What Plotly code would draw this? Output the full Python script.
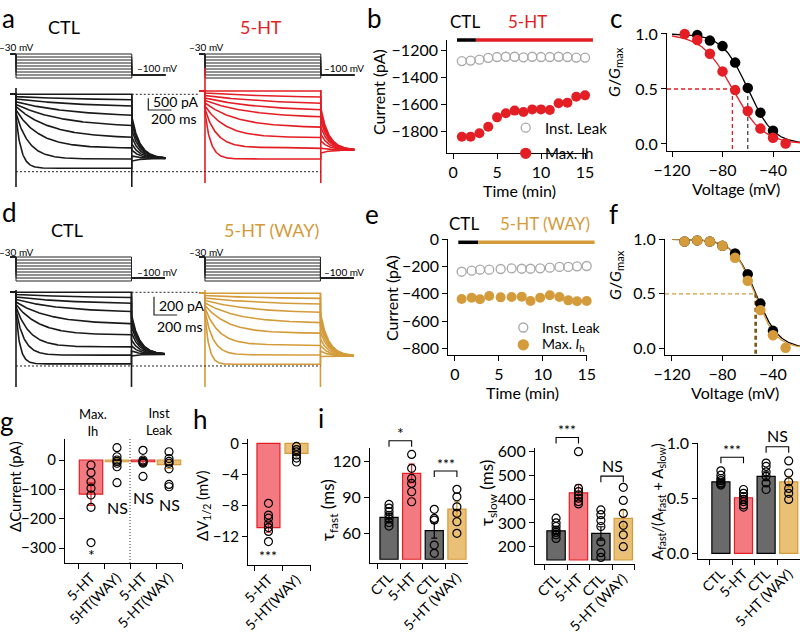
import numpy as np
import plotly.graph_objects as go

W, H = 800, 633
FONT = "Lato"
RED = "#E31E24"; RED_FILL = "#F27A80"
GOLD = "#D49B3B"; GOLD_FILL = "#EABF76"
GRAY_FILL = "#6A6A6A"; LEAK = "#A8A8A8"

# ======================= DATA =======================
# --- a / d : voltage protocol (mV) and sweep parameters (pA, ms)
V_STEPS = [-30, -40, -50, -60, -70, -80, -90, -100, -110]
V_HOLD, V_TAIL = -30, -100
PRE_MS, STEP_MS, TAIL_MS, TAIL_TAU = 50, 1000, 290, 70

A_CTL_INST = [-200, -300, -400, -520, -630, -730, -870, -1010, -1160]
A_CTL_SS = [-200, -470, -770, -1180, -1610, -2080, -2500, -2960, -3360]
A_CTL_TAU = [1, 700, 600, 500, 400, 300, 200, 110, 45]
A_CTL_TAIL0 = [-1160, -1300, -1470, -1720, -2020, -2320, -2580, -2830, -3050]
A_CTL_TAILSS = -2940
A_CTL_TRANS = [70, -4160, -200, -4160]          # on-top, on-bottom, off-top, off-bottom

A_HT_INST = [-60, -145, -250, -360, -465, -570, -700, -830, -1000]
A_HT_SS = [-60, -370, -660, -940, -1220, -1630, -2050, -2480, -2960]
A_HT_TAU = [1, 700, 600, 500, 400, 280, 180, 100, 50]
A_HT_TAIL0 = [-790, -960, -1130, -1340, -1600, -1900, -2190, -2490, -2710]
A_HT_TAILSS = -2580
A_HT_TRANS = [920, -3990, -20, -3990]
A_REF_TOP, A_REF_BOT = -200, -3505
A_SCALE = (200, 500)   # ms, pA

D_CTL_INST = [-100, -124, -151, -178, -206, -233, -260, -293, -329]
D_CTL_SS = [-100, -165, -230, -320, -450, -565, -695, -785, -880]
D_CTL_TAU = [1, 600, 500, 400, 300, 200, 120, 70, 35]
D_CTL_TAIL0 = [-347, -380, -424, -478, -543, -620, -685, -740, -794]
D_CTL_TAILSS = -776
D_CTL_TRANS = [-75, -1132, -97, -1132]

D_WAY_INST = [-111, -135, -162, -189, -217, -244, -271, -304, -342]
D_WAY_SS = [-111, -173, -238, -329, -438, -547, -674, -783, -885]
D_WAY_TAU = [1, 600, 500, 400, 300, 200, 120, 70, 35]
D_WAY_TAIL0 = [-330, -370, -415, -470, -535, -610, -680, -740, -800]
D_WAY_TAILSS = -795
D_WAY_TRANS = [-75, -1132, -110, -1132]
D_REF_TOP, D_REF_BOT = -100, -903
D_SCALE = (200, 200)

# --- b
B_T = [1, 2, 3, 4, 5, 6, 7, 8, 9, 10, 11, 12, 13, 14, 15]
B_LEAK = [-1282, -1278, -1272, -1258, -1252, -1250, -1250, -1254, -1250, -1252, -1252, -1250, -1252, -1256, -1256]
B_IH = [-1842, -1842, -1817, -1768, -1699, -1669, -1649, -1659, -1640, -1640, -1644, -1595, -1590, -1546, -1536]
B_CTL_PERIOD = (0.45, 2.6)
B_DRUG_PERIOD = (2.6, 15.9)

# --- e
E_T = [0.76, 1.9, 2.85, 3.9, 5.2, 6.45, 7.6, 8.6, 9.7, 10.8, 11.9, 12.9, 13.9, 15.0]
E_LEAK = [-238, -230, -223, -223, -218, -213, -216, -216, -213, -208, -203, -203, -198, -196]
E_IH = [-438, -429, -440, -416, -426, -423, -421, -453, -429, -411, -423, -448, -455, -453]
E_CTL_PERIOD = (0.38, 2.65)
E_DRUG_PERIOD = (2.65, 15.9)

# --- c / f  (G/Gmax)
C_V_CTL = [-100, -90, -80, -70, -60, -50, -40]
C_G_CTL = [0.99, 0.94, 0.89, 0.74, 0.51, 0.285, 0.12]
C_V_HT = [-110, -100, -90, -80, -70, -60, -50, -40, -30]
C_G_HT = [1.0, 0.945, 0.82, 0.66, 0.49, 0.30, 0.14, 0.057, 0.005]
C_FIT_CTL = (-60.0, 10.0)    # V1/2, slope k
C_FIT_HT = (-72.2, 12.0)

F_V_CTL = [-110, -100, -90, -80, -70, -60, -50, -40]
F_G_CTL = [0.98, 0.99, 0.98, 0.94, 0.87, 0.68, 0.41, 0.16]
F_V_WAY = [-110, -100, -90, -80, -70, -60, -50, -40, -30]
F_G_WAY = [0.98, 0.99, 0.98, 0.94, 0.83, 0.62, 0.35, 0.12, 0.005]
F_FIT_CTL = (-53.5, 9.0)
F_FIT_WAY = (-54.5, 8.5)

# --- g
G_CATS = ["5-HT", "5HT(WAY)", "5-HT", "5-HT(WAY)"]
G_MEAN = [-116, -6, -6, -16]
G_SEM = [38, 12, 10, 13]
G_PTS = [[-17, -43, -74, -96, -119, -161, -281],
         [42, 11, 0, -5, -11, -23, -77],
         [33, 0, -5, -8, -11, -56],
         [28, 5, -5, -11, -30, -83, -91]]

# --- h
H_CATS = ["5-HT", "5-HT(WAY)"]
H_MEAN = [-10.8, -1.3]
H_SEM = [0.6, 0.3]
H_PTS = [[-7.7, -9.2, -9.6, -10.3, -10.8, -11.3, -12.6],
         [-0.4, -0.8, -1.1, -1.5, -1.9, -2.4]]

# --- i
I_CATS = ["CTL", "5-HT", "CTL", "5-HT (WAY)"]
TF_MEAN = [73.3, 109.7, 62.2, 80.1]
TF_SEM = [3.3, 7.8, 6.1, 6.1]
TF_PTS = [[84, 81, 78, 75, 72, 69, 66],
          [125.5, 113.9, 105.6, 101.4, 94.5, 86.2],
          [79.9, 72.4, 71, 50.3, 43.4],
          [96.5, 90.3, 82, 76.6, 69.6, 60]]
TS_MEAN = [267, 427, 256, 319]
TS_SEM = [12, 35, 28, 35]
TS_PTS = [[320, 300, 285, 270, 260, 250, 235],
          [600, 446, 432, 418, 404, 390, 380],
          [355, 335, 310, 285, 220, 175, 155],
          [450, 395, 340, 290, 250, 200]]
AF_MEAN = [0.65, 0.505, 0.70, 0.65]
AF_SEM = [0.02, 0.02, 0.04, 0.05]
AF_PTS = [[0.75, 0.71, 0.68, 0.66, 0.64, 0.63, 0.62],
          [0.58, 0.545, 0.515, 0.49, 0.47, 0.44, 0.42],
          [0.82, 0.79, 0.74, 0.70, 0.64, 0.58],
          [0.84, 0.73, 0.65, 0.59, 0.545, 0.49]]
# significance: (panel, cat0, cat1, bracket height in data units, label)
SIG = [("i1", 0, 1, 136.8, "*"), ("i1", 2, 3, 111.7, "***"),
       ("i2", 0, 1, 660.0, "***"), ("i2", 2, 3, 497.0, "NS"),
       ("i3", 0, 1, 0.873, "***"), ("i3", 2, 3, 0.969, "NS")]

# ======================= LAYOUT HELPERS =======================
def fx(px): return px / W
def fy(py): return 1 - py / H

AX = {}
def reg(name, xdom, xr, ydom, yr):
    AX[name] = (xdom, xr, ydom, yr)

def X(name, v):
    (a, b), (r0, r1) = AX[name][0], AX[name][1]
    return fx(a + (v - r0) / (r1 - r0) * (b - a))
def Y(name, v):
    (t, bt), (r0, r1) = AX[name][2], AX[name][3]
    return fy(bt - (v - r0) / (r1 - r0) * (bt - t))
def Ypx(name, v):
    (t, bt), (r0, r1) = AX[name][2], AX[name][3]
    return bt - (v - r0) / (r1 - r0) * (bt - t)

A_PX0, A_PXMS, A_OFF = 16, 0.1158, 1632
D_PX0, D_PXMS, D_OFF = 16, 0.1155, 1636
a_xr = [(0 - A_PX0) / A_PXMS, (360 - A_PX0) / A_PXMS]
d_xr = [(0 - D_PX0) / D_PXMS, (360 - D_PX0) / D_PXMS]

reg("b", (447.3, 586), [-0.65, 15.11], (40, 152.7), [-1960.7, -1125.9])
reg("e", (448.3, 586.7), [-0.76, 15.0], (239.3, 355), [-849.2, 0])
reg("c", (667, 800), [-124.0, -18.6], (33, 150.7), [-0.061, 1.009])
reg("f", (665, 800), [-125.5, -18.6], (239.3, 355), [-0.0615, 1.0])
reg("g", (65, 182), [-1.0, 3.5], (439, 563), [-350.3, 71.4])
reg("h", (248, 310.5), [-0.73, 1.5], (439, 565), [-15.6, 0.55])
reg("i1", (370, 468), [-0.84, 3.49], (448, 563), [35.4, 130.8])
reg("i2", (535, 634.5), [-0.94, 3.5], (448, 564), [127.2, 615.6])
reg("i3", (698.3, 800), [-1.0, 3.5], (443.3, 559.3), [-0.0545, 1.0])

BASES = {"g": 0, "h": 0, "i1": 38.5, "i2": 144, "i3": 0}

fig = go.Figure()
layout = dict(width=W, height=H, autosize=False,
              margin=dict(l=0, r=0, t=0, b=0, pad=0, autoexpand=False),
              paper_bgcolor="white", plot_bgcolor="rgba(0,0,0,0)",
              showlegend=False, font=dict(family=FONT, color="black", size=15))
shapes, annos = [], []

AXSTYLE = dict(showline=True, linecolor="black", linewidth=1.2, ticks="outside",
               ticklen=5, tickwidth=1.2, tickcolor="black", showgrid=False, automargin=False,
               zeroline=False, fixedrange=True, tickfont=dict(size=16, color="black"))

def xdomain(a, b): return [fx(a), fx(b)]
def ydomain(top, bot): return [fy(bot), fy(top)]

hid = dict(visible=False, showgrid=False, zeroline=False, fixedrange=True, automargin=False)
layout["xaxis"] = dict(hid, domain=xdomain(0, 360), range=a_xr, anchor="y2")
layout["yaxis"] = dict(hid, domain=ydomain(45, 82), range=[-123.3, 0], anchor="x")
a_iy = lambda py: -200 - (py - 94.3) * 42.7
layout["yaxis2"] = dict(hid, domain=ydomain(60, 192), range=[a_iy(192), a_iy(60)], anchor="x")
layout["xaxis2"] = dict(hid, domain=xdomain(0, 360), range=d_xr, anchor="y4")
layout["yaxis3"] = dict(hid, domain=ydomain(248, 285), range=[-123.3, 0], anchor="x2")
d_iy = lambda py: -100 - (py - 292.3) * 10.9
layout["yaxis4"] = dict(hid, domain=ydomain(284, 392), range=[d_iy(392), d_iy(284)], anchor="x2")

def sweeps(inst, ss, tau, tail0, tail_ss, t_off):
    xs, ys = [], []
    hold = ss[0]
    for i0, iss, tu, tl0 in zip(inst, ss, tau, tail0):
        t1 = np.linspace(0, STEP_MS, 240)
        c1 = iss + (i0 - iss) * np.exp(-t1 / tu)
        t2 = np.linspace(STEP_MS, STEP_MS + TAIL_MS, 80)
        c2 = tail_ss + (tl0 - tail_ss) * np.exp(-(t2 - STEP_MS) / TAIL_TAU)
        xs += [t_off - PRE_MS, t_off] + list(t1 + t_off) + list(t2 + t_off) + [None]
        ys += [hold, hold] + list(c1) + list(c2) + [None]
    return xs, ys

def protocol(t_off):
    xs, ys = [], []
    for v in V_STEPS:
        xs += [t_off - PRE_MS, t_off, t_off, t_off + STEP_MS, t_off + STEP_MS,
               t_off + STEP_MS + TAIL_MS, None]
        ys += [V_HOLD, V_HOLD, v, v, V_TAIL, V_TAIL, None]
    return xs, ys

def transients(tr, t_off):
    return ([t_off, t_off, None, t_off + STEP_MS, t_off + STEP_MS],
            [tr[0], tr[1], None, tr[2], tr[3]])

def trace_panel(xa, yv, yi, cond):
    for (inst, ss, tau, tl0, tlss, trans, off, col) in cond:
        px_, py_ = protocol(off)
        fig.add_trace(go.Scatter(x=px_, y=py_, xaxis=xa, yaxis=yv, mode="lines",
                                 line=dict(color="#222", width=1), hoverinfo="skip"))
        sx, sy = sweeps(inst, ss, tau, tl0, tlss, off)
        fig.add_trace(go.Scatter(x=sx, y=sy, xaxis=xa, yaxis=yi, mode="lines",
                                 line=dict(color=col, width=1.6), hoverinfo="skip"))
        tx, ty = transients(trans, off)
        fig.add_trace(go.Scatter(x=tx, y=ty, xaxis=xa, yaxis=yi, mode="lines",
                                 line=dict(color=col, width=1.6), hoverinfo="skip"))

trace_panel("x", "y", "y2", [
    (A_CTL_INST, A_CTL_SS, A_CTL_TAU, A_CTL_TAIL0, A_CTL_TAILSS, A_CTL_TRANS, 0, "#1a1a1a"),
    (A_HT_INST, A_HT_SS, A_HT_TAU, A_HT_TAIL0, A_HT_TAILSS, A_HT_TRANS, A_OFF, RED)])
trace_panel("x2", "y3", "y4", [
    (D_CTL_INST, D_CTL_SS, D_CTL_TAU, D_CTL_TAIL0, D_CTL_TAILSS, D_CTL_TRANS, 0, "#1a1a1a"),
    (D_WAY_INST, D_WAY_SS, D_WAY_TAU, D_WAY_TAIL0, D_WAY_TAILSS, D_WAY_TRANS, D_OFF, GOLD)])

def ref_lines(xa, ya, top, bot, off):
    fig.add_trace(go.Scatter(x=[STEP_MS, off - 45], y=[top, top], xaxis=xa, yaxis=ya, mode="lines",
                             line=dict(color="#222", width=1, dash="2px,2px"), hoverinfo="skip"))
    fig.add_trace(go.Scatter(x=[0, off + STEP_MS], y=[bot, bot], xaxis=xa, yaxis=ya, mode="lines",
                             line=dict(color="#222", width=1, dash="2px,2px"), hoverinfo="skip"))
ref_lines("x", "y2", A_REF_TOP, A_REF_BOT, A_OFF)
ref_lines("x2", "y4", D_REF_TOP, D_REF_BOT, D_OFF)

def scale_bar(xa, ya, t0, i0, sc, lbl_i, lbl_t):
    ms, pa = sc
    fig.add_trace(go.Scatter(x=[t0, t0, t0 + ms], y=[i0 + pa, i0, i0], xaxis=xa, yaxis=ya,
                             mode="lines", line=dict(color="#222", width=1.2), hoverinfo="skip"))
    annos.append(dict(x=t0 + 25, y=lbl_i, xref=xa, yref=ya, text=f"{pa} pA", showarrow=False,
                      xanchor="left", yanchor="middle", font=dict(size=14)))
    annos.append(dict(x=t0 + 5, y=lbl_t, xref=xa, yref=ya, text=f"{ms} ms", showarrow=False,
                      xanchor="left", yanchor="middle", font=dict(size=14)))
scale_bar("x", "y2", (148.3 - A_PX0) / A_PXMS, a_iy(110), A_SCALE, a_iy(101.5), a_iy(118.5))
scale_bar("x2", "y4", (154 - D_PX0) / D_PXMS, d_iy(315), D_SCALE, d_iy(305), d_iy(326.7))

def ptext(px, py, text, size=15, color="black", xanchor="center", angle=0, yanchor="middle"):
    annos.append(dict(x=fx(px), y=fy(py), xref="paper", yref="paper", text=text,
                      showarrow=False, xanchor=xanchor, yanchor=yanchor, textangle=angle,
                      font=dict(size=size, color=color, family=FONT)))

for (yt, yb) in [(47, 68), (251.7, 271.7)]:
    ptext(16, yt, "–30 mV", 10); ptext(157, yb, "–100 mV", 10)
    ptext(206, yt, "–30 mV", 10); ptext(344, yb, "–100 mV", 10)
ptext(64, 27, "CTL", 18); ptext(261, 27, "5-HT", 18, RED)
ptext(67, 230, "CTL", 18); ptext(271, 230, "5-HT (WAY)", 18, GOLD)

def add_axes(idx, name, xkw=None, ykw=None):
    (xd, xr, yd, yr) = AX[name]
    xa = dict(AXSTYLE, domain=xdomain(*xd), range=xr, anchor=f"y{idx}")
    ya = dict(AXSTYLE, domain=ydomain(*yd), range=yr, anchor=f"x{idx}")
    xa.update(xkw or {}); ya.update(ykw or {})
    layout[f"xaxis{idx}"] = xa
    layout[f"yaxis{idx}"] = ya
    return f"x{idx}", f"y{idx}"

bx, by = add_axes(5, "b", dict(tickvals=[0, 5, 10, 15]), dict(tickvals=[-1800, -1600, -1400, -1200]))
fig.add_trace(go.Scatter(x=B_T, y=B_LEAK, xaxis=bx, yaxis=by, mode="markers", cliponaxis=False,
                         marker=dict(size=9, color="rgba(0,0,0,0)", line=dict(color=LEAK, width=1.3))))
fig.add_trace(go.Scatter(x=B_T, y=B_IH, xaxis=bx, yaxis=by, mode="markers", cliponaxis=False,
                         marker=dict(size=10, color=RED, line=dict(width=0))))
ex, ey = add_axes(6, "e", dict(tickvals=[0, 5, 10, 15]), dict(tickvals=[-800, -600, -400, -200, 0]))
fig.add_trace(go.Scatter(x=E_T, y=E_LEAK, xaxis=ex, yaxis=ey, mode="markers", cliponaxis=False,
                         marker=dict(size=9, color="rgba(0,0,0,0)", line=dict(color=LEAK, width=1.3))))
fig.add_trace(go.Scatter(x=E_T, y=E_IH, xaxis=ex, yaxis=ey, mode="markers", cliponaxis=False,
                         marker=dict(size=10, color=GOLD, line=dict(width=0))))

def app_bars(name, yv, periods):
    for (t0, t1), col in periods:
        shapes.append(dict(type="line", xref="paper", yref="paper", x0=X(name, t0), x1=X(name, t1),
                           y0=Y(name, yv), y1=Y(name, yv), line=dict(color=col, width=3.5)))
app_bars("b", -1126, [(B_CTL_PERIOD, "black"), (B_DRUG_PERIOD, RED)])
app_bars("e", -22, [(E_CTL_PERIOD, "black"), (E_DRUG_PERIOD, GOLD)])
ptext(465, 22, "CTL", 17); ptext(527, 22, "5-HT", 17, RED)
ptext(464, 224, "CTL", 17); ptext(545, 224, "5-HT (WAY)", 17, GOLD)

def legend_item(px, py, fill, edge, r, text, size):
    shapes.append(dict(type="circle", xref="paper", yref="paper", xsizemode="pixel", ysizemode="pixel",
                       xanchor=fx(px), yanchor=fy(py), x0=-r, x1=r, y0=-r, y1=r,
                       fillcolor=fill, line=dict(color=edge, width=1.3)))
    ptext(px + 17, py, text, size, xanchor="left")
legend_item(525.7, 127.7, "rgba(0,0,0,0)", LEAK, 4.5, "Inst. Leak", 15)
legend_item(525.7, 153.3, RED, RED, 5, "Max. Ih", 15)
legend_item(523.3, 327.5, "rgba(0,0,0,0)", LEAK, 4.5, "Inst. Leak", 14)
legend_item(523.3, 344.8, GOLD, GOLD, 5, "Max. <i>I</i><sub>h</sub>", 14)

ptext(378, 92, "Current (pA)", 16, angle=-90)
ptext(519, 190.5, "Time (min)", 16)
ptext(391, 298, "Current (pA)", 16, angle=-90)
ptext(522, 392, "Time (min)", 16)

def boltz(v, p): return 1 / (1 + np.exp((np.asarray(v) - p[0]) / p[1]))
def gv_panel(idx, name, sets, dash_h_col, dashes):
    gx, gy = add_axes(idx, name, dict(tickvals=[-120, -80, -40]),
                      dict(tickvals=[0, 0.5, 1.0], tickformat=".1f"))
    xr, yr = AX[name][1], AX[name][3]
    vv = np.linspace(-120, xr[1], 200)
    for (V, G, fit, col) in sets:
        fig.add_trace(go.Scatter(x=vv, y=boltz(vv, fit), xaxis=gx, yaxis=gy, mode="lines",
                                 line=dict(color=col, width=1.3), hoverinfo="skip"))
    fig.add_trace(go.Scatter(x=[xr[0], dashes[0][0]], y=[0.5, 0.5], xaxis=gx, yaxis=gy, mode="lines",
                             line=dict(color=dash_h_col, width=1.3, dash="4px,3px"), hoverinfo="skip"))
    for (vh, col, wd) in dashes:
        fig.add_trace(go.Scatter(x=[vh, vh], y=[0.5, yr[0]], xaxis=gx, yaxis=gy, mode="lines",
                                 line=dict(color=col, width=wd, dash="4px,3px"), hoverinfo="skip"))
    for (V, G, fit, col) in sets:
        fig.add_trace(go.Scatter(x=V, y=G, xaxis=gx, yaxis=gy, mode="markers", cliponaxis=False,
                                 marker=dict(size=10.5, color=col, line=dict(width=0))))
gv_panel(7, "c", [(C_V_CTL, C_G_CTL, C_FIT_CTL, "black"), (C_V_HT, C_G_HT, C_FIT_HT, RED)],
         RED, [(C_FIT_HT[0], RED, 1.3), (C_FIT_CTL[0], "#444", 1.3)])
gv_panel(8, "f", [(F_V_CTL, F_G_CTL, F_FIT_CTL, "black"), (F_V_WAY, F_G_WAY, F_FIT_WAY, GOLD)],
         GOLD, [(F_FIT_WAY[0], GOLD, 1.3), (F_FIT_CTL[0], "#6b5a30", 2.2)])
ptext(615, 72, "<i>G</i>/<i>G</i><sub>max</sub>", 16, angle=-90)
ptext(736, 188, "Voltage (mV)", 16)
ptext(615, 275, "<i>G</i>/<i>G</i><sub>max</sub>", 16, angle=-90)
ptext(735, 392, "Voltage (mV)", 16)

def bar_panel(idx, name, cats, means, sems, pts, fills, edges, width, ytick, yfmt=None,
              tickfont=16):
    ncat = len(cats)
    bnds = [i - 0.5 for i in range(ncat + 1)]
    xkw = dict(tickvals=list(range(ncat)), ticktext=cats, ticks="", tickangle=-45,
               tickfont=dict(size=14, color="black"), ticklabelstandoff=0,
               minor=dict(tickvals=bnds, ticks="outside", ticklen=5, tickwidth=1.2, tickcolor="black"))
    ykw = dict(tickvals=ytick, tickfont=dict(size=tickfont, color="black"))
    if yfmt: ykw["tickformat"] = yfmt
    gx, gy = add_axes(idx, name, xkw, ykw)
    base = BASES[name]
    for i in range(ncat):
        fig.add_trace(go.Bar(x=[i], y=[means[i] - base], base=base, xaxis=gx, yaxis=gy, width=width,
                             marker=dict(color=fills[i], line=dict(color=edges[i], width=1.2)),
                             error_y=dict(type="data", array=[sems[i]], color=edges[i],
                                          thickness=1.2, width=3)))
    xs, ys = [], []
    for i, p in enumerate(pts):
        xs += [i] * len(p); ys += p
    fig.add_trace(go.Scatter(x=xs, y=ys, xaxis=gx, yaxis=gy, mode="markers", cliponaxis=False,
                             marker=dict(size=8, color="rgba(0,0,0,0)", line=dict(color="black", width=1.2))))
    return gx, gy

gx_, gy_ = bar_panel(9, "g", G_CATS, G_MEAN, G_SEM, G_PTS, [RED_FILL, GOLD_FILL, RED_FILL, GOLD_FILL],
                     [RED, GOLD, RED, GOLD], 0.9, [-300, -200, -100, 0], tickfont=15)
shapes.append(dict(type="line", xref=gx_, yref=gy_ + " domain", x0=1.5, x1=1.5, y0=0, y1=1,
                   line=dict(color="#333", width=1, dash="1px,2px")))
hx_, hy_ = bar_panel(10, "h", H_CATS, H_MEAN, H_SEM, H_PTS, [RED_FILL, GOLD_FILL], [RED, GOLD],
                     0.82, [-12, -8, -4, 0], tickfont=15)
i1x, i1y = bar_panel(11, "i1", I_CATS, TF_MEAN, TF_SEM, TF_PTS,
                     [GRAY_FILL, RED_FILL, GRAY_FILL, GOLD_FILL], ["black", RED, "black", GOLD], 0.8, [60, 90, 120])
i2x, i2y = bar_panel(12, "i2", I_CATS, TS_MEAN, TS_SEM, TS_PTS,
                     [GRAY_FILL, RED_FILL, GRAY_FILL, GOLD_FILL], ["black", RED, "black", GOLD], 0.82,
                     [200, 300, 400, 500, 600])
i3x, i3y = bar_panel(13, "i3", I_CATS, AF_MEAN, AF_SEM, AF_PTS,
                     [GRAY_FILL, RED_FILL, GRAY_FILL, GOLD_FILL], ["black", RED, "black", GOLD], 0.8,
                     [0, 0.5, 1.0], ".1f")

for (pn, c0, c1, yv, lbl) in SIG:
    x0, x1 = X(pn, c0), X(pn, c1)
    ytop = Ypx(pn, yv)
    shapes.append(dict(type="path", xref="paper", yref="paper",
                       path=f"M{x0},{fy(ytop + 6)} L{x0},{fy(ytop)} L{x1},{fy(ytop)} L{x1},{fy(ytop + 6)}",
                       line=dict(color="black", width=1.1)))
    off = 11 if lbl == "NS" else 8
    ptext((x0 + x1) / 2 * W, ytop - off, lbl, 16 if lbl != "***" else 14)

def dtext(xa, ya, x, y, t, size=16):
    annos.append(dict(x=x, y=y, xref=xa, yref=ya, text=t, showarrow=False, font=dict(size=size)))
dtext(gx_, gy_, 0, -323, "*", 16)
dtext(gx_, gy_, 1, -160, "NS", 16)
dtext(gx_, gy_, 2, -126, "NS", 16)
dtext(gx_, gy_, 3, -153, "NS", 16)
dtext(hx_, hy_, 0, -14.4, "***", 14)
ptext(93, 422, "Max.<br>Ih", 13)
ptext(159, 421, "Inst<br>Leak", 13)

ptext(15, 487, "ΔCurrent (pA)", 15, angle=-90)
ptext(203, 505, "ΔV<sub>1/2</sub> (mV)", 15, angle=-90)
ptext(329, 510, "τ<sub>fast</sub> (ms)", 17, angle=-90)
ptext(488, 493, "τ<sub>slow</sub> (ms)", 17, angle=-90)
ptext(658, 502, "A<sub>fast</sub>/(A<sub>fast</sub> + A<sub>slow</sub>)", 15, angle=-90)

# panel letters (top row anchored to the top edge)
for (lx, l) in [(8, "a"), (374, "b"), (616, "c")]:
    ptext(lx, 0, l, 26, yanchor="top")
for (lx, ly, l) in [(9, 212, "d"), (372, 214, "e"), (613, 214, "f"),
                    (7, 421, "g"), (200, 419, "h"), (321, 418, "i")]:
    ptext(lx, ly, l, 26)

layout["shapes"] = shapes
layout["annotations"] = annos
layout["barmode"] = "overlay"
fig.update_layout(**layout)
fig.write_html("out.html", config={"responsive": False, "displayModeBar": False},
               post_script="document.body.style.margin='0px';document.body.style.padding='0px';"
                           "document.documentElement.style.overflow='hidden';")
